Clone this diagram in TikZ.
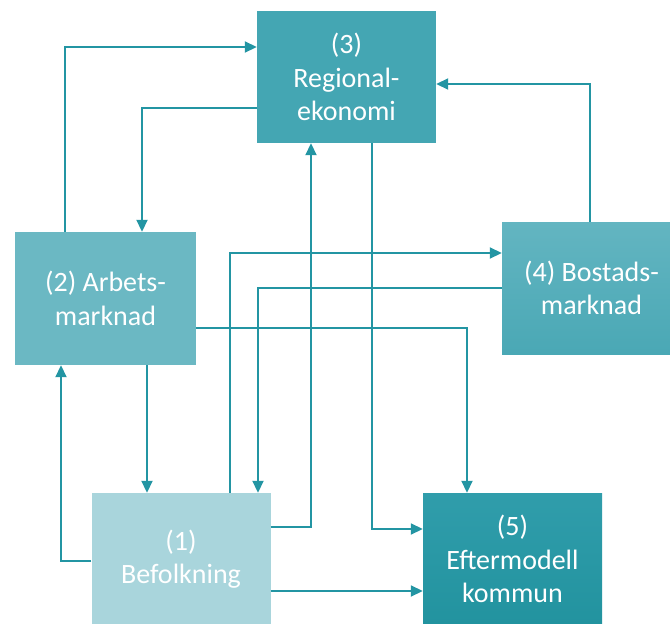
\documentclass[tikz,border=0pt]{standalone}
\usepackage{fontspec}
\setmainfont{Carlito}
\usetikzlibrary{arrows.meta}
\definecolor{lineC}{HTML}{2395A3}
\definecolor{c1}{HTML}{A9D5DC}
\definecolor{c2}{HTML}{6BB8C3}
\definecolor{c3}{HTML}{44A6B3}
\definecolor{c4t}{HTML}{63B5C1}
\definecolor{c4b}{HTML}{4AA8B5}
\definecolor{c5t}{HTML}{309DAB}
\definecolor{c5b}{HTML}{22939F}
\tikzset{
  box/.style={rectangle, minimum width=179pt, minimum height=132pt, inner sep=0pt,
    text=white, align=center, font=\fontsize{28}{33.5}\selectfont},
  arr/.style={draw=lineC, line width=1.8pt, -{Triangle[length=12pt,width=11pt]}},
  ln/.style={draw=lineC, line width=1.8pt}
}
\begin{document}
\begin{tikzpicture}[x=1pt,y=-1pt]
\clip (0,0) rectangle (670,624);
\fill[white] (0,0) rectangle (670,624);
\node[box, fill=c3] (b3) at (346.5,77) {(3)\\Regional-\\ekonomi};
\node[box, fill=c2, minimum width=181pt, minimum height=133pt] (b2) at (105.5,298.5) {(2) Arbets-\\marknad};
\node[box, top color=c4t, bottom color=c4b] (b4) at (591.5,288) {(4) Bostads-\\marknad};
\node[box, fill=c1] (b1) at (181,559) {(1)\\Befolkning};
\node[box, top color=c5t, bottom color=c5b] (b5) at (512.5,559) {(5)\\Eftermodell\\kommun};
% connectors
\draw[arr] (65,0 |- b2.north) |- (b3.west |- 0,47);
\draw[arr] (b3.west |- 0,108) -| (142,0 |- b2.north);
\draw[arr] (590,0 |- b4.north) |- (b3.east |- 0,84);
\draw[arr] (b1.east |- 0,527) -| (311,0 |- b3.south);
\draw[arr] (372,0 |- b3.south) |- (b5.west |- 0,529);
\draw[arr] (230,0 |- b1.north) |- (b4.west |- 0,253);
\draw[arr] (b4.west |- 0,288) -| (258,0 |- b1.north);
\draw[arr] (b2.east |- 0,328) -| (467,0 |- b5.north);
\draw[arr] (147,0 |- b2.south) -- (147,0 |- b1.north);
\draw[arr] (b1.west |- 0,561) -| (61,0 |- b2.south);
\draw[arr] (b1.east |- 0,591) -- (b5.west |- 0,591);
\end{tikzpicture}
\end{document}
